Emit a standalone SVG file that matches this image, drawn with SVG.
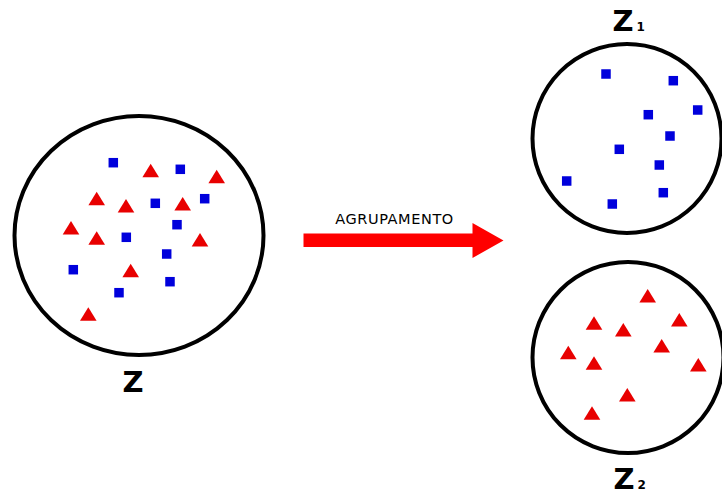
<svg xmlns="http://www.w3.org/2000/svg" xmlns:xlink="http://www.w3.org/1999/xlink" width="722" height="495" viewBox="0 0 722 495">
<style>
.ring{fill:none;stroke:#000;stroke-width:4}
.lbl{font-family:"DejaVu Sans",sans-serif;font-weight:bold;fill:#000}
.sq{fill:#0000dc}
.tri{fill:#e80000}
.txt{font-family:"DejaVu Sans",sans-serif;font-size:14.5px;letter-spacing:0.6px;fill:#000}
</style>
<defs>
<rect id="s" x="-4.75" y="-4.75" width="9.5" height="9.5" class="sq"/>
<polygon id="t" points="0,-7 8.3,6.5 -8.3,6.5" class="tri"/>
</defs>
<rect width="722" height="495" fill="#fff"/>
<g id="Z">
<ellipse class="ring" cx="139" cy="235.5" rx="124.5" ry="119.5"/>
<use href="#s" x="113.3" y="162.7"/>
<use href="#s" x="180.3" y="169.3"/>
<use href="#s" x="155.3" y="203.3"/>
<use href="#s" x="204.7" y="198.7"/>
<use href="#s" x="177" y="224.7"/>
<use href="#s" x="126.3" y="237.3"/>
<use href="#s" x="166.7" y="254"/>
<use href="#s" x="73.3" y="269.7"/>
<use href="#s" x="170" y="281.7"/>
<use href="#s" x="119" y="292.7"/>
<use href="#t" x="150.7" y="170.7"/>
<use href="#t" x="216.7" y="176.7"/>
<use href="#t" x="96.7" y="198.7"/>
<use href="#t" x="126" y="206"/>
<use href="#t" x="182.7" y="204"/>
<use href="#t" x="71" y="228"/>
<use href="#t" x="96.7" y="238.3"/>
<use href="#t" x="200" y="240"/>
<use href="#t" x="130.7" y="270.7"/>
<use href="#t" x="88.3" y="314.3"/>
<text class="lbl" x="133" y="392" font-size="29" text-anchor="middle">Z</text>
</g>
<g id="Z1">
<circle class="ring" cx="627" cy="138.5" r="94.5"/>
<use href="#s" x="606" y="74"/>
<use href="#s" x="673.3" y="80.7"/>
<use href="#s" x="648.3" y="114.7"/>
<use href="#s" x="697.7" y="110"/>
<use href="#s" x="670" y="136"/>
<use href="#s" x="619.3" y="149.3"/>
<use href="#s" x="659.3" y="165"/>
<use href="#s" x="566.7" y="181"/>
<use href="#s" x="663.3" y="192.7"/>
<use href="#s" x="612.3" y="204"/>
<text class="lbl" x="623" y="31" font-size="29" text-anchor="middle">Z</text>
<text class="lbl" x="636.5" y="31" font-size="12">1</text>
</g>
<g id="Z2">
<circle class="ring" cx="628" cy="357.5" r="95.5"/>
<use href="#t" x="647.7" y="296"/>
<use href="#t" x="594" y="323.3"/>
<use href="#t" x="679.3" y="320"/>
<use href="#t" x="623.3" y="330"/>
<use href="#t" x="661.7" y="346"/>
<use href="#t" x="568.3" y="352.7"/>
<use href="#t" x="594" y="363.3"/>
<use href="#t" x="698.3" y="365"/>
<use href="#t" x="627.3" y="395"/>
<use href="#t" x="592" y="413.3"/>
<text class="lbl" x="624" y="489" font-size="29" text-anchor="middle">Z</text>
<text class="lbl" x="637.5" y="489" font-size="12">2</text>
</g>
<g id="connectors">
<polygon points="303.5,233.5 472.5,233.5 472.5,223 503.5,240.5 472.5,258 472.5,247 303.5,247" fill="#f00"/>
<text class="txt" x="394.5" y="224" text-anchor="middle">AGRUPAMENTO</text>
</g>
</svg>
